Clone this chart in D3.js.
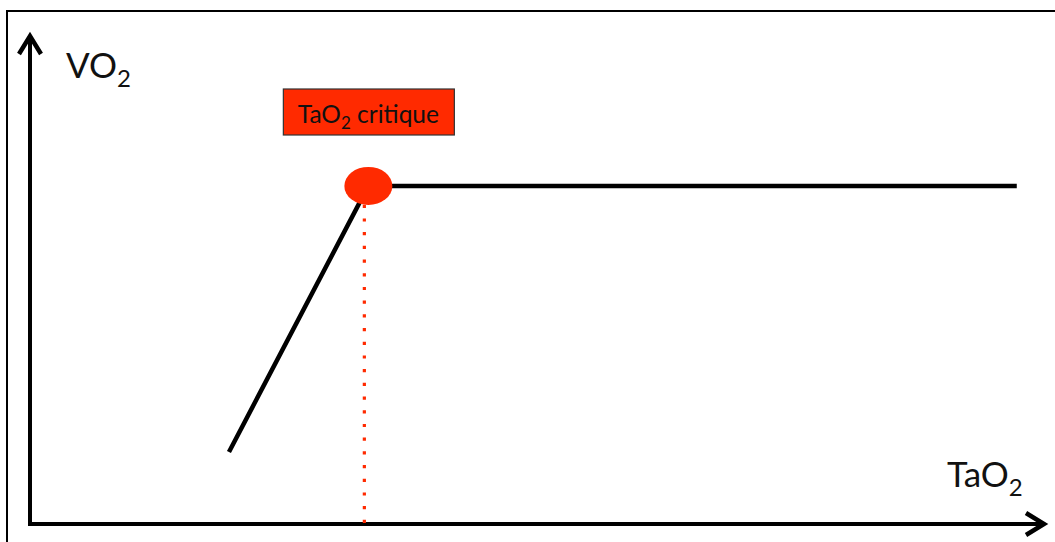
<!DOCTYPE html>
<html>
<head>
<meta charset="utf-8">
<script src="https://cdn.jsdelivr.net/npm/d3@7"></script>
<style>
  body { margin: 0; background: #fff; }
  svg { display: block; }
  text { font-family: Lato, "Open Sans", sans-serif; fill: #111; }
</style>
</head>
<body>
<div id="chart"></div>
<script>
// curve VO2 = f(TaO2), arbitrary units (0-100 on both axes)
const taO2 = [19.7, 33.5, 97.7];
const vO2 = [14.7, 69, 69];
const criticalTaO2 = 33.5;
const criticalVO2 = 69;
const criticalLabel = ["TaO", "2", " critique"];
const xLabel = ["TaO", "2"];
const yLabel = ["VO", "2"];

const width = 1055, height = 542;
const RED = "#ff2a00";

const svg = d3.select("#chart")
  .append("svg")
  .attr("width", width)
  .attr("height", height);

// outer frame (open on the right and bottom, cut by the picture)
svg.append("rect")
  .attr("x", 7)
  .attr("y", 11)
  .attr("width", 1100)
  .attr("height", 600)
  .attr("fill", "none")
  .attr("stroke", "#000")
  .attr("stroke-width", 2);

var x = d3.scaleLinear().domain([0, 100]).range([30, 1040]);
var y = d3.scaleLinear().domain([0, 100]).range([524, 34]);

// arrow marker for both axes
svg.append("defs")
  .append("marker")
  .attr("id", "arrow")
  .attr("viewBox", "0 0 26 26")
  .attr("refX", 21)
  .attr("refY", 13)
  .attr("markerWidth", 26)
  .attr("markerHeight", 26)
  .attr("markerUnits", "userSpaceOnUse")
  .attr("orient", "auto")
  .append("path")
  .attr("d", "M3,2 L21,13 L3,24")
  .attr("fill", "none")
  .attr("stroke", "#000")
  .attr("stroke-width", 4.5)
  .attr("stroke-linejoin", "miter");

// y axis
svg.append("line")
  .attr("x1", x(0)).attr("y1", y(0) + 2)
  .attr("x2", x(0)).attr("y2", y(100) + 2)
  .attr("stroke", "#000")
  .attr("stroke-width", 4)
  .attr("marker-end", "url(#arrow)");

// x axis
svg.append("line")
  .attr("x1", x(0) - 2).attr("y1", y(0))
  .attr("x2", x(100) + 4).attr("y2", y(0))
  .attr("stroke", "#000")
  .attr("stroke-width", 4)
  .attr("marker-end", "url(#arrow)");

// critical TaO2 drop line
svg.append("line")
  .attr("x1", x(criticalTaO2) - 4).attr("y1", y(0) - 1)
  .attr("x2", x(criticalTaO2) - 4).attr("y2", y(criticalVO2) + 18)
  .attr("stroke", RED)
  .attr("stroke-width", 3.2)
  .attr("stroke-dasharray", "3.2 10.5");

// the curve
var line = d3.line()
  .x(function (d, i) { return x(taO2[i]); })
  .y(function (d, i) { return y(vO2[i]); });

svg.append("path")
  .datum(taO2)
  .attr("d", line)
  .attr("fill", "none")
  .attr("stroke", "#000")
  .attr("stroke-width", 4.5)
  .attr("stroke-linejoin", "round");

// critical point
svg.append("ellipse")
  .attr("cx", x(criticalTaO2))
  .attr("cy", y(criticalVO2))
  .attr("rx", 24)
  .attr("ry", 19)
  .attr("fill", RED);

// label box
var bx = x(criticalTaO2);
svg.append("rect")
  .attr("x", bx - 85)
  .attr("y", 89)
  .attr("width", 171)
  .attr("height", 46)
  .attr("fill", RED)
  .attr("stroke", "#333")
  .attr("stroke-width", 1.2);

function subText(g, parts, px, py, size, subSize, anchor) {
  var t = g.append("text")
    .attr("x", px)
    .attr("y", py)
    .attr("text-anchor", anchor || "start")
    .style("font-size", size + "px");
  t.append("tspan").text(parts[0]);
  t.append("tspan").attr("dy", size * 0.25).style("font-size", subSize + "px").text(parts[1]);
  if (parts[2]) {
    t.append("tspan").attr("dy", -size * 0.25).text(parts[2]);
  }
  return t;
}

subText(svg, criticalLabel, bx, 123, 24.5, 17, "middle");
subText(svg, yLabel, 66, 78, 35, 24);
subText(svg, xLabel, 947, 487, 35, 24);
</script>
</body>
</html>
